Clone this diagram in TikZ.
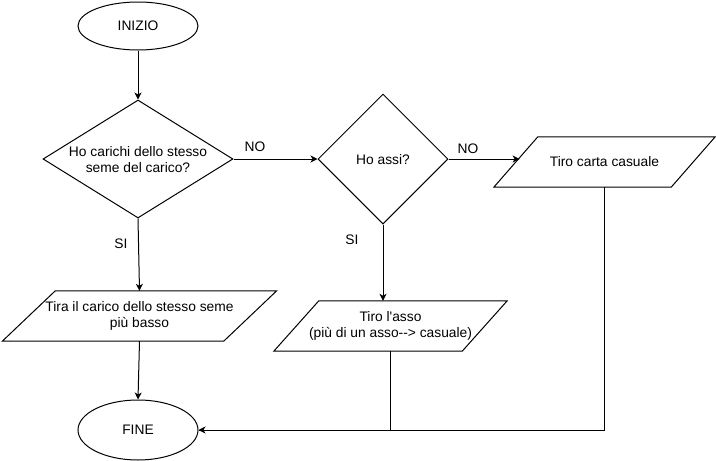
\documentclass[tikz,border=0pt]{standalone}
\usepackage{fontspec}
\setmainfont{Liberation Sans}
\usetikzlibrary{shapes.geometric,arrows.meta}
\begin{document}
\begin{tikzpicture}[x=1pt,y=-1pt,
  every node/.style={font=\fontsize{13.8}{16}\selectfont},
  line/.style={line width=1pt,draw=black},
  arr/.style={line, -{Stealth[length=7pt,width=7pt,inset=2pt]}},
  oval/.style={ellipse,line,minimum width=120pt,inner sep=0pt},
  decision/.style={diamond,line,inner sep=0pt},
  body/.style={rectangle,minimum height=50pt,inner sep=0pt,align=center},
  lbl/.style={inner sep=0pt}]
\useasboundingbox (0,0) rectangle (716,461);
% shapes
\node[oval,minimum height=48pt] (inizio) at (138,26) {INIZIO};
\node[decision,minimum width=190pt,minimum height=118pt] (d1) at (138,159) {};
\node[align=center] (t1) at (138,160) {Ho carichi dello stesso\\seme del carico?};
\node[decision,minimum width=130pt,minimum height=130pt] (d2) at (383,159) {};
\node (t2) at (383,160) {Ho assi?};
\node[body,minimum width=221pt] (p1) at (139.5,316) {Tira il carico dello stesso seme\\più basso};
\node[body,minimum width=188pt] (p2) at (390.5,326) {Tiro l\textquotesingle asso\\(più di un asso-{}-{}> casuale)};
\node[body,minimum width=177pt] (p3) at (604.5,162) {Tiro carta casuale};
\node[oval,minimum height=60pt] (fine) at (138,430) {FINE};
% parallelogram outlines
\draw[line] ([xshift=-26.5pt]p1.south west) -- ([xshift=26.5pt]p1.north west) -- ([xshift=26.5pt]p1.north east) -- ([xshift=-26.5pt]p1.south east) -- cycle;
\draw[line] ([xshift=-22.5pt]p2.south west) -- ([xshift=22.5pt]p2.north west) -- ([xshift=22.5pt]p2.north east) -- ([xshift=-22.5pt]p2.south east) -- cycle;
\draw[line] ([xshift=-22pt]p3.south west) -- ([xshift=22pt]p3.north west) -- ([xshift=22pt]p3.north east) -- ([xshift=-22pt]p3.south east) -- cycle;
\coordinate (p3in) at (519.6,159);
% connectors
\draw[arr] (inizio.south) -- (d1.north);
\draw[arr] (d1.east) -- (d2.west);
\draw[arr] (d2.east) -- (p3in);
\draw[arr] (d1.south) -- (p1.north);
\draw[arr] (d2.south) -- (d2.south |- p2.north);
\draw[arr] (p1.south) -- (fine.north);
\draw[line] (p2.south) |- (fine.east);
\draw[arr] (p3.south) |- (fine.east);
% labels
\node[lbl] (no1) at (255,147) {NO};
\node[lbl] (no2) at (468,149) {NO};
\node[lbl] (si1) at (121,244) {SI};
\node[lbl] (si2) at (352,240) {SI};
\end{tikzpicture}
\end{document}
